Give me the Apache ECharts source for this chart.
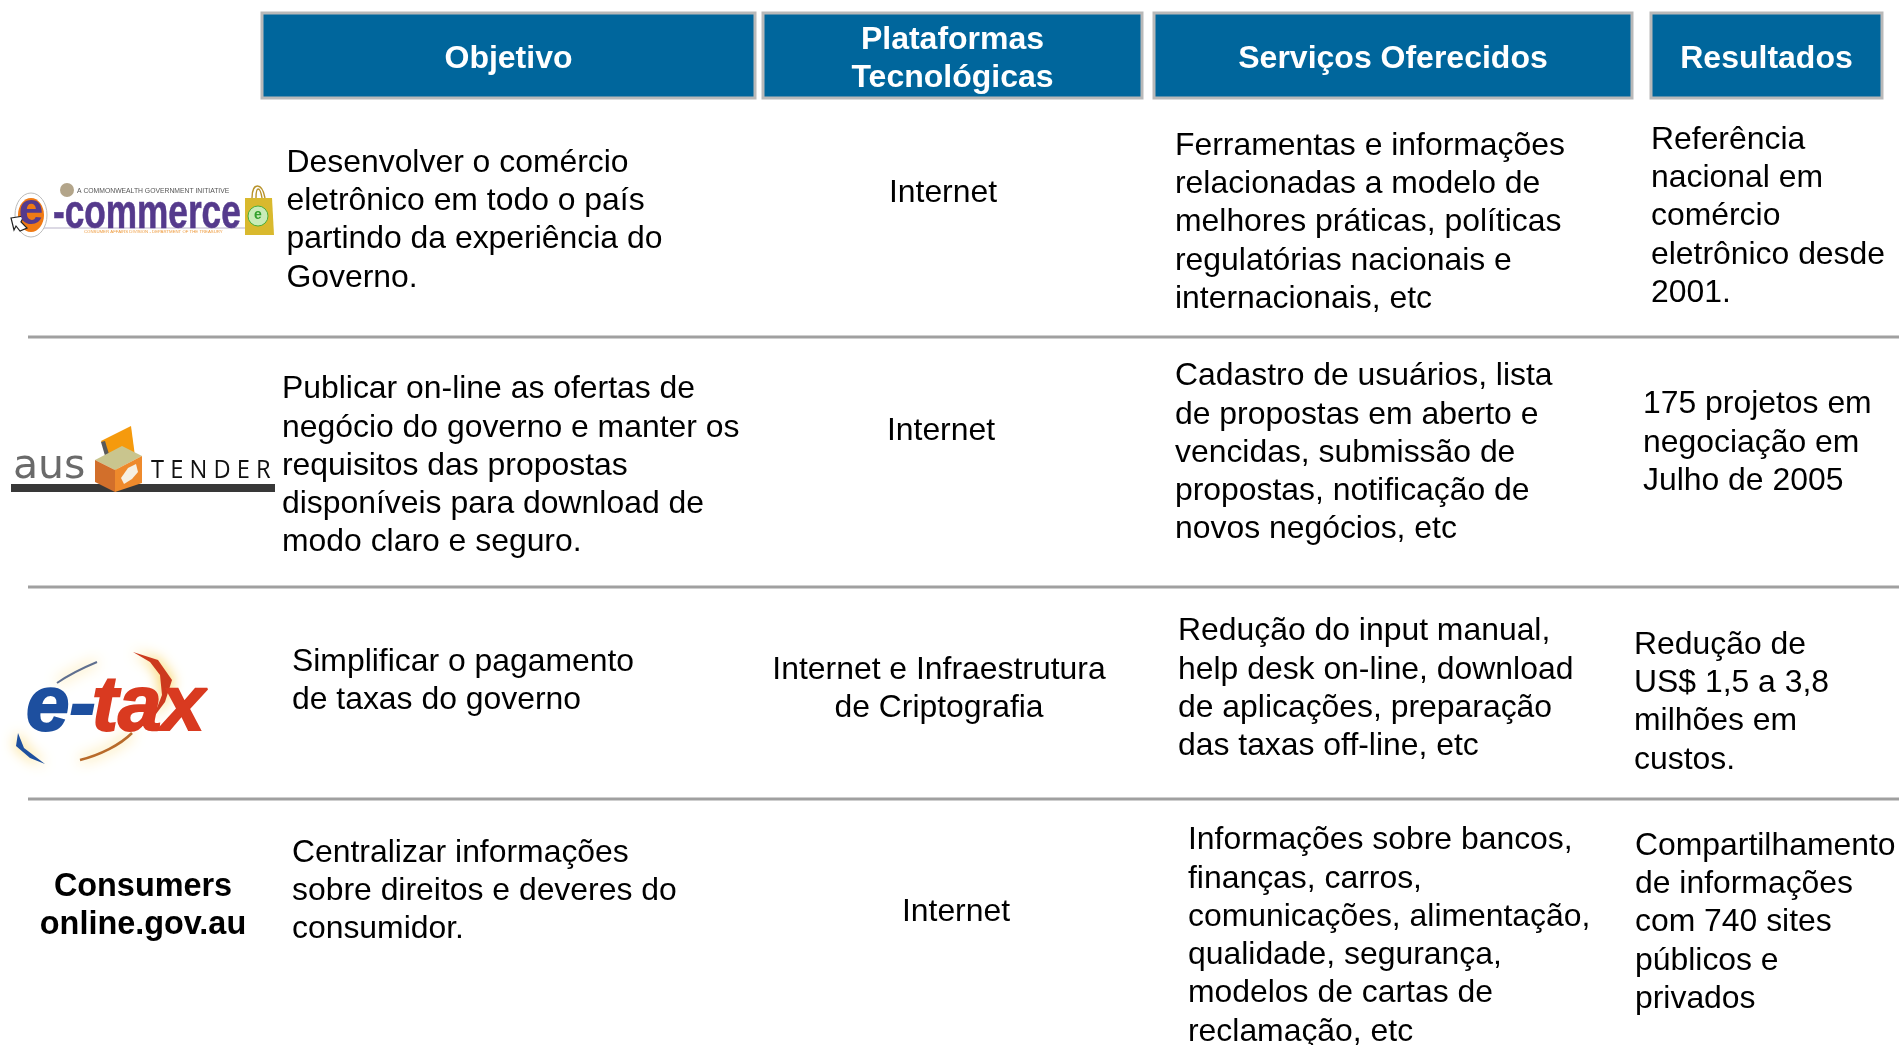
<!DOCTYPE html>
<html><head><meta charset="utf-8">
<style>html,body{margin:0;padding:0;background:#fff}#c{width:1899px;height:1045px}</style>
<script src="https://cdn.jsdelivr.net/npm/echarts@6/dist/echarts.min.js"></script>
</head><body><div id="c"></div>
<script>
const headers = [["Objetivo"], ["Plataformas", "Tecnológicas"], ["Serviços Oferecidos"], ["Resultados"]];
const objetivo = [
  ["Desenvolver o comércio", "eletrônico em todo o país", "partindo da experiência do", "Governo."],
  ["Publicar on-line as ofertas de", "negócio do governo e manter os", "requisitos das propostas", "disponíveis para download de", "modo claro e seguro."],
  ["Simplificar o pagamento", "de taxas do governo"],
  ["Centralizar informações", "sobre direitos e deveres do", "consumidor."]
];
const plataformas = [["Internet"], ["Internet"], ["Internet e Infraestrutura", "de Criptografia"], ["Internet"]];
const servicos = [
  ["Ferramentas e informações", "relacionadas a modelo de", "melhores práticas, políticas", "regulatórias nacionais e", "internacionais, etc"],
  ["Cadastro de usuários, lista", "de propostas em aberto e", "vencidas, submissão de", "propostas, notificação de", "novos negócios, etc"],
  ["Redução do input manual,", "help desk on-line, download", "de aplicações, preparação", "das taxas off-line, etc"],
  ["Informações sobre bancos,", "finanças, carros,", "comunicações, alimentação,", "qualidade, segurança,", "modelos de cartas de", "reclamação, etc"]
];
const resultados = [
  ["Referência", "nacional em", "comércio", "eletrônico desde", "2001."],
  ["175 projetos em", "negociação em", "Julho de 2005"],
  ["Redução de", "US$ 1,5 a 3,8", "milhões em", "custos."],
  ["Compartilhamento", "de informações", "com 740 sites", "públicos e", "privados"]
];
const consumers = ["Consumers", "online.gov.au"];

// layout, kept apart from the content
const FONT = '"Liberation Sans", Arial, sans-serif';
const LH = 38.3, FS = 31.9;
const headBoxes = [[262, 13, 493, 85], [763, 13, 379, 85], [1154, 13, 478, 85], [1651, 13, 231, 85]];
const headLineY = [[59], [40, 78], [59], [59]];
const ruleY = [337, 587, 799];
const colPos = {
  objetivo: [[286.5, 163], [282, 389.5], [292, 662], [292, 853]],
  plataformas: [[943, 193], [941, 431], [939, 670], [956, 912]],
  servicos: [[1175, 146], [1175, 376.5], [1178, 631.5], [1188, 840.5]],
  resultados: [[1651, 140], [1643, 404.5], [1634, 645], [1635, 846]]
};

const els = [];
const text = (t, x, y, o) => els.push(Object.assign({type: 'text', x, y, silent: true, z: o && o.z || 5, style: Object.assign({
  text: t, fill: '#000', font: FS + 'px ' + FONT, align: 'left', verticalAlign: 'middle'}, o && o.style)}, o && o.el));
const block = (lines, pos, style) => lines.forEach((l, i) => text(l, pos[0], pos[1] + i * LH, {style}));

headBoxes.forEach((b, i) => {
  els.push({type: 'rect', silent: true, shape: {x: b[0], y: b[1], width: b[2], height: b[3]},
    style: {fill: '#00669c', stroke: '#b9b9b9', lineWidth: 3}});
  headers[i].forEach((l, j) => text(l, b[0] + b[2] / 2, headLineY[i][j], {style: {
    fill: '#fff', font: 'bold 32px ' + FONT, align: 'center'}}));
});
ruleY.forEach(y => els.push({type: 'line', silent: true, shape: {x1: 28, y1: y, x2: 1899, y2: y},
  style: {stroke: '#a0a0a0', lineWidth: 3}}));
objetivo.forEach((r, i) => block(r, colPos.objetivo[i]));
plataformas.forEach((r, i) => block(r, colPos.plataformas[i], {align: 'center'}));
servicos.forEach((r, i) => block(r, colPos.servicos[i]));
resultados.forEach((r, i) => block(r, colPos.resultados[i]));
consumers.forEach((l, i) => text(l, 143, 887 + i * 38, {style: {font: 'bold 32.4px ' + FONT, align: 'center'}}));

const poly = (points, fill, extra) => els.push({type: 'polygon', silent: true, shape: {points}, z: 3, style: Object.assign({fill}, extra)});
const bez = (p, style, z) => els.push({type: 'bezierCurve', silent: true, z: z || 3,
  shape: {x1: p[0], y1: p[1], cpx1: p[2], cpy1: p[3], cpx2: p[4], cpy2: p[5], x2: p[6], y2: p[7]}, style: Object.assign({fill: 'none'}, style)});

// e-commerce logo
els.push({type: 'line', silent: true, z: 2, shape: {x1: 40, y1: 228, x2: 245, y2: 228}, style: {stroke: '#b9b3c9', lineWidth: 1}});
text('A COMMONWEALTH GOVERNMENT INITIATIVE', 77, 191, {style: {font: '6.8px ' + FONT, fill: '#555'}});
els.push({type: 'circle', silent: true, z: 3, shape: {cx: 67, cy: 190, r: 7}, style: {fill: '#b3a58a'}});
els.push({type: 'ellipse', silent: true, z: 3, shape: {cx: 31, cy: 215, rx: 16, ry: 22}, style: {fill: '#fff', stroke: '#bbb', lineWidth: 1}});
els.push({type: 'ellipse', silent: true, z: 3, shape: {cx: 31, cy: 215, rx: 13, ry: 17}, style: {fill: '#f07a14'}});
text('e', 31, 212, {z: 4, style: {font: 'bold 44px ' + FONT, fill: '#553a8c', align: 'center'}});
poly([[11, 218], [24, 216], [21, 222], [27, 228], [20, 231], [16, 226], [14, 230]], '#fff', {stroke: '#222', lineWidth: 1.2});
text('-commerce', 53, 215, {z: 4, el: {scaleX: 0.733}, style: {font: 'bold 48px ' + FONT, fill: '#553a8c', stroke: '#553a8c', lineWidth: 0.6}});
text('CONSUMER AFFAIRS DIVISION - DEPARTMENT OF THE TREASURY', 84, 232, {style: {font: '4.3px ' + FONT, fill: '#ee9a3c'}});
bez([252, 198, 252, 182, 262, 182, 265, 198], {stroke: '#b8932b', lineWidth: 1.4});
bez([256, 198, 256, 186, 260, 186, 262, 198], {stroke: '#b8932b', lineWidth: 1.4});
poly([[245, 198], [272, 198], [274, 235], [245, 235]], '#d9b92e');
els.push({type: 'circle', silent: true, z: 4, shape: {cx: 258, cy: 216, r: 10}, style: {fill: '#c9ecb8', stroke: '#4cae3c', lineWidth: 1}});
text('e', 258, 215, {z: 5, style: {font: 'bold 14px ' + FONT, fill: '#33a02c', align: 'center'}});

// ausTender logo
els.push({type: 'rect', silent: true, z: 2, shape: {x: 11, y: 484, width: 264, height: 8}, style: {fill: '#383838'}});
text('aus', 13, 467, {style: {font: '41px "DejaVu Sans", sans-serif', fill: '#6a6a6a'}});
text('T E N D E R', 151, 471, {el: {scaleX: 0.91}, style: {font: '26px "Open Sans", sans-serif', fill: '#111'}});
poly([[101, 441], [131, 426], [135, 456], [115, 470]], '#f59a0d');
poly([[101, 442], [105, 441], [112, 464], [108, 466]], '#5a5a5a');
poly([[95, 460], [115, 470], [142, 456], [122, 446]], '#c9c58e');
poly([[95, 460], [115, 470], [115, 492], [95, 482]], '#d26f2b');
poly([[115, 470], [142, 456], [142, 483], [115, 492]], '#ee8a2c');
poly([[121, 478], [128, 468], [136, 464], [138, 472], [132, 479], [124, 484]], '#f6f0e2');

// e-tax logo
const halo = {shadowBlur: 14, shadowColor: '#f6c42c'};
bez([57, 683, 70, 674, 85, 667, 97, 662], Object.assign({stroke: '#5f6f8f', lineWidth: 2}, halo));
poly([[18, 733], [24, 748], [45, 764], [30, 758], [16, 746]], '#1d4f9f', halo);
poly([[133, 652], [158, 660], [172, 680], [165, 702], [153, 718], [162, 695], [160, 675], [150, 662]], '#cc3a1e', halo);
bez([80, 760, 100, 755, 120, 745, 132, 733], Object.assign({stroke: '#b86a2a', lineWidth: 2.5}, halo));
const glow = {shadowBlur: 18, shadowColor: '#f8cf45'};
text('e-', 26, 708, {z: 4, style: Object.assign({font: 'italic bold 78px ' + FONT, fill: '#1d4f9f', stroke: '#1d4f9f', lineWidth: 2}, glow)});
text('tax', 92, 708, {z: 4, style: Object.assign({font: 'italic bold 78px ' + FONT, fill: '#d93a20', stroke: '#d93a20', lineWidth: 2}, glow)});

const chart = echarts.init(document.getElementById('c'), null, {renderer: 'canvas'});
chart.setOption({animation: false, backgroundColor: '#fff', graphic: {elements: els}});
</script></body></html>
